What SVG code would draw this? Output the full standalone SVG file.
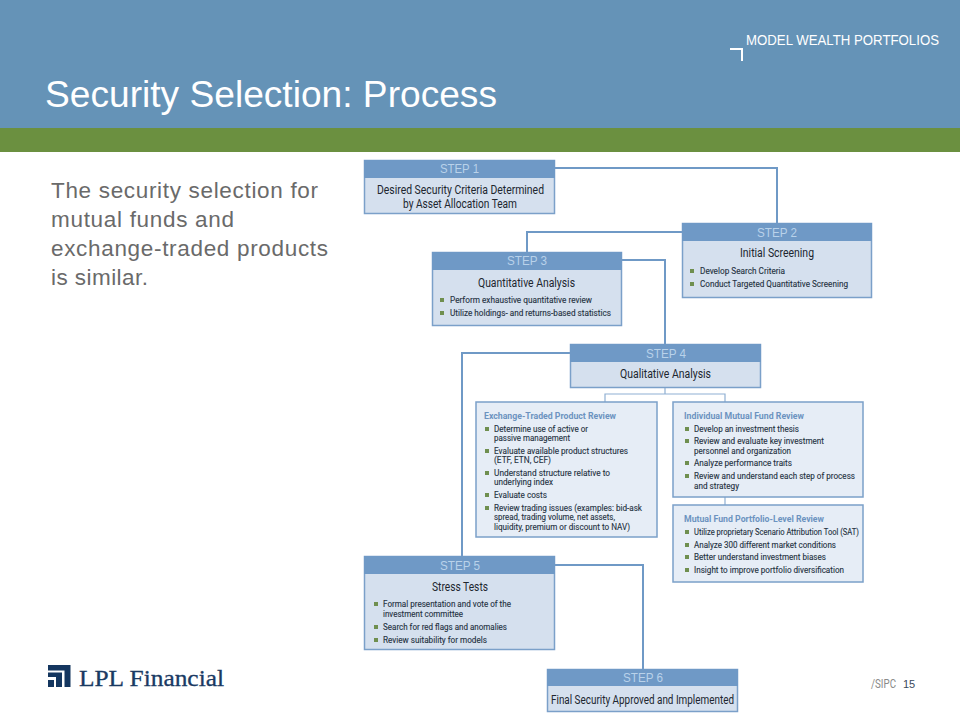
<svg xmlns="http://www.w3.org/2000/svg" width="960" height="720" viewBox="0 0 960 720">
<style>
.box{fill:#d5e0ee;stroke:#7ba0c9;stroke-width:1.5}
.sub{fill:#e6edf6;stroke:#7ba0c9;stroke-width:1.5}
.hd{fill:#6f99c6}
.cn{fill:none;stroke:#6f99c6;stroke-width:2}
.th{fill:none;stroke:#8fb0d3;stroke-width:1.2}
text{font-family:"Liberation Sans Narrow","Roboto","Liberation Sans",sans-serif}
.st{font-size:12px;fill:#b9d2ea;font-family:"Liberation Sans",sans-serif}
.t{font-size:12.500px;fill:#20262e}
.b{font-size:9px;fill:#24313f;stroke:#24313f;stroke-width:.12}
.h{font-size:9.500px;fill:#6c93c0;font-weight:bold}
.g{fill:#6f8f4f}
.lead{font-size:22.500px;fill:#6a6a6a;font-family:"Liberation Sans",sans-serif}
</style>
<rect id="top-band" x="0" y="0" width="960" height="128" fill="#6593b7"/>
<rect id="green-band" x="0" y="128" width="960" height="24" fill="#6b9040"/>
<text x="45" y="107" font-size="36" fill="#fff" textLength="452" lengthAdjust="spacingAndGlyphs" style="font-family:'Liberation Sans',sans-serif">Security Selection: Process</text>
<text x="746" y="45" font-size="14" fill="#fff" textLength="193" lengthAdjust="spacingAndGlyphs" style="font-family:'Liberation Sans',sans-serif">MODEL WEALTH PORTFOLIOS</text>
<path d="M730 49H742V61" fill="none" stroke="#fff" stroke-width="2"/>
<g id="body-text">
<text class="lead" x="51" y="198" textLength="267" lengthAdjust="spacing">The security selection for</text>
<text class="lead" x="51" y="227" textLength="183" lengthAdjust="spacing">mutual funds and</text>
<text class="lead" x="51" y="256" textLength="277" lengthAdjust="spacing">exchange-traded products</text>
<text class="lead" x="51" y="285" textLength="97" lengthAdjust="spacing">is similar.</text>
</g>
<g id="connectors">
<path class="cn" d="M555 168H777V223"/>
<path class="cn" d="M682 232H527V252"/>
<path class="cn" d="M622 260H665V344"/>
<path class="cn" d="M570 353H462V556"/>
<path class="cn" d="M555 565H643V669"/>
<path class="th" d="M665 388V394M605 402V394H725V402M725 497V505"/>
</g>
<g id="step1">
<rect class="box" x="364.500" y="160.500" width="190" height="53"/><rect class="hd" x="364" y="160" width="191" height="18"/>
<text class="st" x="440" y="173" textLength="39" lengthAdjust="spacingAndGlyphs">STEP 1</text>
<text class="t" x="377" y="194" textLength="167" lengthAdjust="spacingAndGlyphs">Desired Security Criteria Determined</text>
<text class="t" x="403" y="208" textLength="114" lengthAdjust="spacingAndGlyphs">by Asset Allocation Team</text>
</g>
<g id="step2">
<rect class="box" x="682.500" y="223.500" width="189" height="74"/><rect class="hd" x="682" y="223" width="190" height="18"/>
<text class="st" x="757" y="237" textLength="40" lengthAdjust="spacingAndGlyphs">STEP 2</text>
<text class="t" x="740" y="257" textLength="74" lengthAdjust="spacingAndGlyphs">Initial Screening</text>
<rect class="g" x="690" y="269" width="4" height="4"/><rect class="g" x="690" y="282" width="4" height="4"/>
<text class="b" x="700" y="274" textLength="85" lengthAdjust="spacingAndGlyphs">Develop Search Criteria</text>
<text class="b" x="700" y="287" textLength="148" lengthAdjust="spacingAndGlyphs">Conduct Targeted Quantitative Screening</text>
</g>
<g id="step3">
<rect class="box" x="432.500" y="252.500" width="189" height="73"/><rect class="hd" x="432" y="252" width="190" height="18"/>
<text class="st" x="507" y="265" textLength="40" lengthAdjust="spacingAndGlyphs">STEP 3</text>
<text class="t" x="478" y="287" textLength="97" lengthAdjust="spacingAndGlyphs">Quantitative Analysis</text>
<rect class="g" x="440" y="298" width="4" height="4"/><rect class="g" x="440" y="311" width="4" height="4"/>
<text class="b" x="450" y="303" textLength="142" lengthAdjust="spacingAndGlyphs">Perform exhaustive quantitative review</text>
<text class="b" x="450" y="316" textLength="161" lengthAdjust="spacingAndGlyphs">Utilize holdings- and returns-based statistics</text>
</g>
<g id="step4">
<rect class="box" x="570.500" y="344.500" width="190" height="43"/><rect class="hd" x="570" y="344" width="191" height="18"/>
<text class="st" x="646" y="358" textLength="40" lengthAdjust="spacingAndGlyphs">STEP 4</text>
<text class="t" x="620" y="378" textLength="91" lengthAdjust="spacingAndGlyphs">Qualitative Analysis</text>
</g>
<g id="etp-review">
<rect class="sub" x="476" y="402" width="181" height="135"/>
<text class="h" x="484" y="419" textLength="132" lengthAdjust="spacingAndGlyphs">Exchange-Traded Product Review</text>
<rect class="g" x="485" y="427" width="4" height="4"/><rect class="g" x="485" y="449" width="4" height="4"/><rect class="g" x="485" y="471" width="4" height="4"/><rect class="g" x="485" y="493" width="4" height="4"/><rect class="g" x="485" y="506" width="4" height="4"/>
<text class="b" x="494" y="432" textLength="94" lengthAdjust="spacingAndGlyphs">Determine use of active or</text>
<text class="b" x="494" y="441" textLength="76" lengthAdjust="spacingAndGlyphs">passive management</text>
<text class="b" x="494" y="454" textLength="134" lengthAdjust="spacingAndGlyphs">Evaluate available product structures</text>
<text class="b" x="494" y="463" textLength="57" lengthAdjust="spacingAndGlyphs">(ETF, ETN, CEF)</text>
<text class="b" x="494" y="476" textLength="116" lengthAdjust="spacingAndGlyphs">Understand structure relative to</text>
<text class="b" x="494" y="485" textLength="59" lengthAdjust="spacingAndGlyphs">underlying index</text>
<text class="b" x="494" y="498" textLength="53" lengthAdjust="spacingAndGlyphs">Evaluate costs</text>
<text class="b" x="494" y="511" textLength="148" lengthAdjust="spacingAndGlyphs">Review trading issues (examples: bid-ask</text>
<text class="b" x="494" y="520" textLength="121" lengthAdjust="spacingAndGlyphs">spread, trading volume, net assets,</text>
<text class="b" x="494" y="530" textLength="136" lengthAdjust="spacingAndGlyphs">liquidity, premium or discount to NAV)</text>
</g>
<g id="mutual-fund-review">
<rect class="sub" x="673" y="402" width="190" height="95"/>
<text class="h" x="684" y="419" textLength="120" lengthAdjust="spacingAndGlyphs">Individual Mutual Fund Review</text>
<rect class="g" x="685" y="427" width="4" height="4"/><rect class="g" x="685" y="439" width="4" height="4"/><rect class="g" x="685" y="461" width="4" height="4"/><rect class="g" x="685" y="474" width="4" height="4"/>
<text class="b" x="694" y="432" textLength="105" lengthAdjust="spacingAndGlyphs">Develop an investment thesis</text>
<text class="b" x="694" y="444" textLength="130" lengthAdjust="spacingAndGlyphs">Review and evaluate key investment</text>
<text class="b" x="694" y="454" textLength="97" lengthAdjust="spacingAndGlyphs">personnel and organization</text>
<text class="b" x="694" y="466" textLength="98" lengthAdjust="spacingAndGlyphs">Analyze performance traits</text>
<text class="b" x="694" y="479" textLength="161" lengthAdjust="spacingAndGlyphs">Review and understand each step of process</text>
<text class="b" x="694" y="489" textLength="45" lengthAdjust="spacingAndGlyphs">and strategy</text>
</g>
<g id="portfolio-review">
<rect class="sub" x="673" y="505" width="190" height="77"/>
<text class="h" x="684" y="522" textLength="140" lengthAdjust="spacingAndGlyphs">Mutual Fund Portfolio-Level Review</text>
<rect class="g" x="685" y="530" width="4" height="4"/><rect class="g" x="685" y="543" width="4" height="4"/><rect class="g" x="685" y="555" width="4" height="4"/><rect class="g" x="685" y="568" width="4" height="4"/>
<text class="b" x="694" y="535" textLength="165" lengthAdjust="spacingAndGlyphs">Utilize proprietary Scenario Attribution Tool (SAT)</text>
<text class="b" x="694" y="548" textLength="142" lengthAdjust="spacingAndGlyphs">Analyze 300 different market conditions</text>
<text class="b" x="694" y="560" textLength="132" lengthAdjust="spacingAndGlyphs">Better understand investment biases</text>
<text class="b" x="694" y="573" textLength="150" lengthAdjust="spacingAndGlyphs">Insight to improve portfolio diversification</text>
</g>
<g id="step5">
<rect class="box" x="364.500" y="556.500" width="190" height="93"/><rect class="hd" x="364" y="556" width="191" height="18"/>
<text class="st" x="440" y="570" textLength="40" lengthAdjust="spacingAndGlyphs">STEP 5</text>
<text class="t" x="432" y="591" textLength="56" lengthAdjust="spacingAndGlyphs">Stress Tests</text>
<rect class="g" x="374" y="602" width="4" height="4"/><rect class="g" x="374" y="625" width="4" height="4"/><rect class="g" x="374" y="638" width="4" height="4"/>
<text class="b" x="383" y="607" textLength="128" lengthAdjust="spacingAndGlyphs">Formal presentation and vote of the</text>
<text class="b" x="383" y="617" textLength="80" lengthAdjust="spacingAndGlyphs">investment committee</text>
<text class="b" x="383" y="630" textLength="124" lengthAdjust="spacingAndGlyphs">Search for red flags and anomalies</text>
<text class="b" x="383" y="643" textLength="104" lengthAdjust="spacingAndGlyphs">Review suitability for models</text>
</g>
<g id="step6">
<rect class="box" x="547.500" y="669.500" width="190" height="42"/><rect class="hd" x="547" y="669" width="191" height="17"/>
<text class="st" x="623" y="682" textLength="40" lengthAdjust="spacingAndGlyphs">STEP 6</text>
<text class="t" x="551" y="704" textLength="183" lengthAdjust="spacingAndGlyphs">Final Security Approved and Implemented</text>
</g>
<g id="logo">
<path d="M48 665H70.500V687H64.500V670.500H48Z" fill="#14365f"/>
<path d="M48 672.500H62V687H56V677H48Z" fill="#14365f"/>
<rect x="48" y="680" width="6" height="7" fill="#14365f"/>
<text x="79" y="686" font-size="23" fill="#1a3a63" stroke="#1a3a63" stroke-width=".3" textLength="145" lengthAdjust="spacingAndGlyphs" style="font-family:'Liberation Serif',serif">LPL Financial</text>
</g>
<text x="871" y="688" font-size="12" fill="#8a8a8a" textLength="25" lengthAdjust="spacingAndGlyphs">/SIPC</text>
<text x="903" y="688" font-size="11" fill="#3a4a5c" style="font-family:'Liberation Sans',sans-serif">15</text>
</svg>
